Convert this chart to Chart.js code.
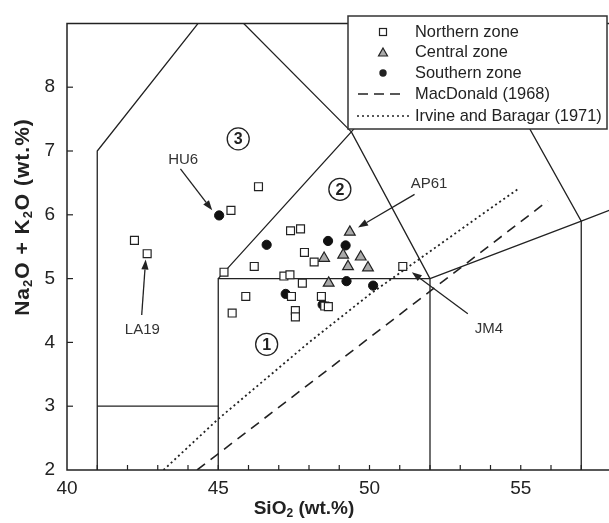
<!DOCTYPE html>
<html>
<head>
<meta charset="utf-8">
<script src="https://cdn.jsdelivr.net/npm/chart.js@4.4.1/dist/chart.umd.min.js"></script>
<style>
html, body { margin: 0; padding: 0; background: #fff; overflow: hidden; }
#wrap { width: 609px; height: 523px; overflow: hidden; }
canvas { display: block; }
</style>
</head>
<body>
<div id="wrap"><canvas id="tas" width="680" height="523"></canvas></div>
<script>
// Sample data (SiO2, Na2O + K2O)
const northernZone = [
    [42.23, 5.60], [42.65, 5.39], [45.42, 6.07], [46.33, 6.44], [45.19, 5.10],
    [46.19, 5.19], [45.91, 4.72], [45.46, 4.46], [47.39, 5.75], [47.72, 5.78],
    [47.85, 5.41], [48.17, 5.26], [47.17, 5.04], [47.37, 5.06], [47.78, 4.93],
    [47.42, 4.72], [47.55, 4.50], [47.55, 4.40], [48.41, 4.72], [48.52, 4.57],
    [48.64, 4.56], [51.10, 5.19]
];
const centralZone = [
    [49.35, 5.73], [48.50, 5.32], [49.13, 5.37], [49.71, 5.34], [49.29, 5.19],
    [49.95, 5.17], [48.65, 4.93]
];
const southernZone = [
    [45.03, 5.99], [46.60, 5.53], [48.63, 5.59], [49.21, 5.52], [47.23, 4.76],
    [49.24, 4.96], [50.12, 4.89], [48.45, 4.59]
];

// TAS field boundaries (Le Bas et al.)
const fieldBoundaries = [
    [[41, 2], [41, 7], [45, 9.4]],
    [[41, 3], [45, 3]],
    [[45, 2], [45, 5], [52, 5], [52, 2]],
    [[45, 5], [49.4, 7.3], [52, 5]],
    [[45, 9.4], [49.4, 7.3], [53, 9.3]],
    [[53, 9.3], [57, 5.9], [57, 2]],
    [[52, 5], [57, 5.9], [63, 7]]
];
const macdonaldLine = [[44.3, 2], [55.9, 6.22]];
const irvineBaragarLine = [[43.19, 2], [45, 2.8], [48, 4], [50, 4.75], [53.7, 6], [54.9, 6.4]];

const xTicks = [40, 45, 50, 55];
const yTicks = [2, 3, 4, 5, 6, 7, 8];

// sample labels with arrows (data coords)
const sampleLabels = [
    { text: 'HU6', at: [43.84, 6.86], from: [43.75, 6.72], to: [44.80, 6.07] },
    { text: 'LA19', at: [42.49, 4.20], from: [42.47, 4.43], to: [42.60, 5.30] },
    { text: 'AP61', at: [51.97, 6.48], from: [51.49, 6.32], to: [49.62, 5.80] },
    { text: 'JM4', at: [53.95, 4.22], from: [53.25, 4.45], to: [51.40, 5.10] }
];
const fieldNumbers = [
    { text: '1', at: [46.60, 3.97] },
    { text: '2', at: [49.02, 6.40] },
    { text: '3', at: [45.66, 7.19] }
];

const FONT = '"Liberation Sans", Arial, sans-serif';
const INK = '#222';

function toXY(pts) {
    return pts.map(([x, y]) => ({ x, y }));
}

function lineDataset(pts, dash, width) {
    return {
        data: toXY(pts),
        showLine: true,
        borderColor: INK,
        borderWidth: width,
        borderDash: dash,
        pointRadius: 0,
        fill: false,
        tension: 0
    };
}

function drawArrow(ctx, x1, y1, x2, y2) {
    const a = Math.atan2(y2 - y1, x2 - x1);
    const head = 10, half = 3.6;
    const bx = x2 - head * Math.cos(a), by = y2 - head * Math.sin(a);
    ctx.beginPath();
    ctx.moveTo(x1, y1);
    ctx.lineTo(bx, by);
    ctx.stroke();
    ctx.beginPath();
    ctx.moveTo(x2, y2);
    ctx.lineTo(bx + half * Math.sin(a), by - half * Math.cos(a));
    ctx.lineTo(bx - half * Math.sin(a), by + half * Math.cos(a));
    ctx.closePath();
    ctx.fill();
}

// text with subscript parts: [text, isSub]
function drawRich(ctx, parts, cx, cy, angle, size, spacing) {
    const big = 'bold ' + size + 'px ' + FONT;
    const small = 'bold ' + Math.round(size * 0.63) + 'px ' + FONT;
    ctx.save();
    ctx.translate(cx, cy);
    ctx.rotate(angle);
    ctx.letterSpacing = spacing + 'px';
    let total = 0;
    parts.forEach(p => { ctx.font = p[1] ? small : big; total += ctx.measureText(p[0]).width; });
    let x = -total / 2;
    ctx.textAlign = 'left';
    ctx.textBaseline = 'middle';
    ctx.fillStyle = INK;
    parts.forEach(p => {
        ctx.font = p[1] ? small : big;
        ctx.fillText(p[0], x, p[1] ? size * 0.27 : 0);
        x += ctx.measureText(p[0]).width;
    });
    ctx.restore();
}

const tasDecor = {
    id: 'tasDecor',
    afterDatasetsDraw(chart) {
        const ctx = chart.ctx;
        const xs = chart.scales.x, ys = chart.scales.y;
        const area = chart.chartArea;
        const px = v => xs.getPixelForValue(v), py = v => ys.getPixelForValue(v);

        ctx.save();
        ctx.strokeStyle = INK;
        ctx.fillStyle = INK;

        // frame: left, bottom, top
        ctx.lineWidth = 1.5;
        ctx.beginPath();
        ctx.moveTo(area.right + 20, area.top);
        ctx.lineTo(area.left, area.top);
        ctx.lineTo(area.left, area.bottom);
        ctx.lineTo(area.right + 20, area.bottom);
        ctx.stroke();

        // inward ticks
        ctx.lineWidth = 1.2;
        for (let v = 41; v < 60; v++) {
            ctx.beginPath();
            ctx.moveTo(px(v), area.bottom);
            ctx.lineTo(px(v), area.bottom - 5);
            ctx.stroke();
        }
        yTicks.slice(1).forEach(v => {
            ctx.beginPath();
            ctx.moveTo(area.left, py(v));
            ctx.lineTo(area.left + 6, py(v));
            ctx.stroke();
        });

        // circled field numbers
        fieldNumbers.forEach(f => {
            const x = px(f.at[0]), y = py(f.at[1]);
            ctx.lineWidth = 1.3;
            ctx.beginPath();
            ctx.arc(x, y, 11, 0, Math.PI * 2);
            ctx.stroke();
            ctx.font = 'bold 16px ' + FONT;
            ctx.textAlign = 'center';
            ctx.textBaseline = 'middle';
            ctx.fillText(f.text, x, y + 1);
        });

        // sample labels and arrows
        ctx.lineWidth = 1.3;
        sampleLabels.forEach(s => {
            drawArrow(ctx, px(s.from[0]), py(s.from[1]), px(s.to[0]), py(s.to[1]));
            ctx.font = '15px ' + FONT;
            ctx.fillStyle = '#333';
            ctx.textAlign = 'center';
            ctx.textBaseline = 'middle';
            ctx.fillText(s.text, px(s.at[0]), py(s.at[1]));
            ctx.fillStyle = INK;
        });

        // axis titles
        drawRich(ctx, [['SiO', false], ['2', true], [' (wt.%)', false]], 304, 509, 0, 19, 0);
        drawRich(ctx, [['Na', false], ['2', true], ['O + K', false], ['2', true], ['O (wt.%)', false]],
            23, 217, -Math.PI / 2, 21, 1);
        ctx.restore();
    },
    afterDraw(chart) {
        const ctx = chart.ctx;
        ctx.save();
        // legend box
        ctx.fillStyle = '#fff';
        ctx.strokeStyle = '#333';
        ctx.lineWidth = 1.5;
        ctx.fillRect(348, 16, 259, 113);
        ctx.strokeRect(348, 16, 259, 113);

        const rows = [
            { label: 'Northern zone', y: 32 },
            { label: 'Central zone', y: 52.5 },
            { label: 'Southern zone', y: 73 },
            { label: 'MacDonald (1968)', y: 94 },
            { label: 'Irvine and Baragar (1971)', y: 116 }
        ];
        const sx = 383;
        ctx.strokeStyle = INK;
        ctx.lineWidth = 1.2;
        // square
        ctx.fillStyle = '#fff';
        ctx.fillRect(sx - 3.5, rows[0].y - 3.5, 7, 7);
        ctx.strokeRect(sx - 3.5, rows[0].y - 3.5, 7, 7);
        // triangle
        ctx.fillStyle = '#aaa';
        ctx.beginPath();
        ctx.moveTo(sx, rows[1].y - 4.5);
        ctx.lineTo(sx + 4.5, rows[1].y + 3.5);
        ctx.lineTo(sx - 4.5, rows[1].y + 3.5);
        ctx.closePath();
        ctx.fill();
        ctx.stroke();
        // dot
        ctx.fillStyle = INK;
        ctx.beginPath();
        ctx.arc(sx, rows[2].y, 3.7, 0, Math.PI * 2);
        ctx.fill();
        // dashed
        ctx.lineWidth = 1.6;
        ctx.setLineDash([10, 6]);
        ctx.beginPath();
        ctx.moveTo(358, rows[3].y);
        ctx.lineTo(402, rows[3].y);
        ctx.stroke();
        // dotted
        ctx.lineWidth = 1.6;
        ctx.setLineDash([2, 3]);
        ctx.beginPath();
        ctx.moveTo(357, rows[4].y);
        ctx.lineTo(409, rows[4].y);
        ctx.stroke();
        ctx.setLineDash([]);

        ctx.fillStyle = INK;
        ctx.font = '16.4px ' + FONT;
        ctx.textAlign = 'left';
        ctx.textBaseline = 'middle';
        rows.forEach(r => ctx.fillText(r.label, 415, r.y));
        ctx.restore();
    }
};

const datasets = [
    {
        label: 'Northern zone',
        data: toXY(northernZone),
        pointStyle: 'rect',
        pointRadius: 5.6,
        backgroundColor: '#fff',
        borderColor: INK,
        borderWidth: 1.2
    },
    {
        label: 'Central zone',
        data: toXY(centralZone),
        pointStyle: 'triangle',
        pointRadius: 6.2,
        backgroundColor: '#aaa',
        borderColor: INK,
        borderWidth: 1.2
    },
    {
        label: 'Southern zone',
        data: toXY(southernZone),
        pointStyle: 'circle',
        pointRadius: 4.6,
        backgroundColor: '#111',
        borderColor: '#111',
        borderWidth: 1
    },
    lineDataset(macdonaldLine, [10, 7], 1.6),
    lineDataset(irvineBaragarLine, [2, 3], 1.8)
];
fieldBoundaries.forEach(b => datasets.push(lineDataset(b, [], 1.3)));

new Chart(document.getElementById('tas'), {
    type: 'scatter',
    data: { datasets },
    options: {
        responsive: false,
        animation: false,
        devicePixelRatio: 1,
        layout: { padding: { top: 12.5, right: 8, left: 0, bottom: 0 } },
        plugins: { legend: { display: false }, tooltip: { enabled: false } },
        scales: {
            x: {
                type: 'linear',
                min: 40,
                max: 60,
                afterFit: s => { s.height = 53; },
                afterBuildTicks: s => { s.ticks = xTicks.map(v => ({ value: v })); },
                ticks: { font: { family: FONT, size: 19 }, color: INK, padding: 7, maxRotation: 0 },
                grid: { display: false, drawTicks: false },
                border: { display: false }
            },
            y: {
                min: 2,
                max: 9,
                afterFit: s => { s.width = 67; },
                afterBuildTicks: s => { s.ticks = yTicks.map(v => ({ value: v })); },
                ticks: { font: { family: FONT, size: 19 }, color: INK, padding: 12 },
                grid: { display: false, drawTicks: false },
                border: { display: false }
            }
        }
    },
    plugins: [tasDecor]
});
</script>
</body>
</html>
